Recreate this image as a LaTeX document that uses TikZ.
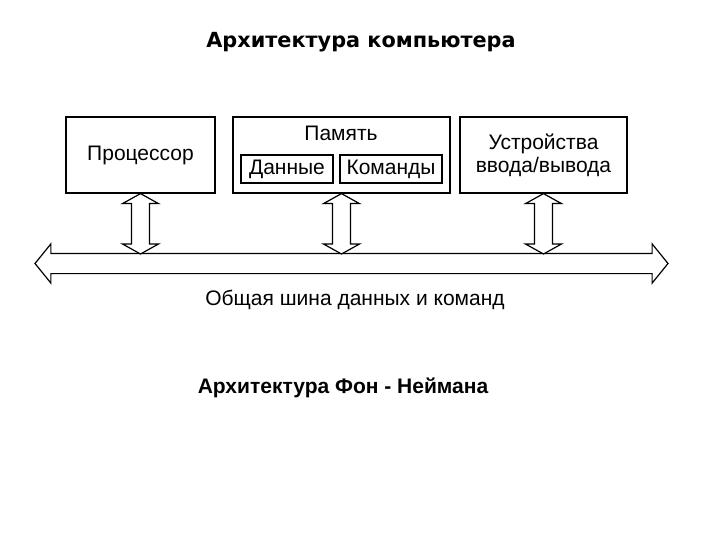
\documentclass[tikz,border=0pt]{standalone}
\usepackage{fontspec}
\setmainfont{Liberation Sans}
\newfontfamily\titlefont{DejaVu Sans}
\usetikzlibrary{shapes.arrows,calc}
\tikzset{
  unit/.style={draw,line width=1.2pt,minimum height=76pt,inner sep=0pt,font=\fontsize{21}{23}\selectfont},
  part/.style={draw,line width=1.2pt,minimum height=28pt,inner sep=0pt,font=\fontsize{21}{23}\selectfont},
  link/.style={draw,line width=1.2pt,line join=miter,fill=white}
}
% hollow double arrow from a unit down to the bus
\newcommand\buslink[1]{%
  \draw[link] let \p1=(#1.south), \p2=(bus.center) in
    (\p1) -- (\x1-18pt,\y1-10pt) -- (\x1-9pt,\y1-10pt) -- (\x1-9pt,\y2+19.5pt)
    -- (\x1-18pt,\y2+19.5pt) -- (\x1,\y2+9.5pt) -- (\x1+18pt,\y2+19.5pt)
    -- (\x1+9pt,\y2+19.5pt) -- (\x1+9pt,\y1-10pt) -- (\x1+18pt,\y1-10pt) -- cycle;}
\begin{document}
\begin{tikzpicture}[x=1pt,y=-1pt]
\useasboundingbox[fill=white] (0,0) rectangle (720,540);
\node[font=\titlefont\bfseries\fontsize{20.8}{23}\selectfont] (title) at (361,42) {Архитектура компьютера};
\node[unit,minimum width=149pt] (proc) at (140.5,155) {Процессор};
\node[unit,minimum width=217pt] (mem) at (341.5,155) {};
\node[font=\fontsize{21}{23}\selectfont] (memlabel) at (341,133) {Память};
\node[part,minimum width=92pt] (data) at (287,169) {Данные};
\node[part,minimum width=102pt] (cmd) at (391,169) {Команды};
\node[unit,minimum width=167pt,align=center] (dev) at (543.5,155) {Устройства\\ввода/вывода};
\node[draw,line width=1.2pt,double arrow,double arrow tip angle=102,double arrow head extend=9.5pt,
  minimum height=633pt,minimum width=38pt,inner xsep=0pt,inner ysep=9.5pt] (bus) at (351.5,263.5) {};
\buslink{proc}
\buslink{mem}
\buslink{dev}
\node[font=\fontsize{21}{24}\selectfont] (buslabel) at (355,300) {Общая шина данных и команд};
\node[font=\bfseries\fontsize{21}{24}\selectfont] (caption) at (343,388) {Архитектура Фон - Неймана};
\end{tikzpicture}
\end{document}
